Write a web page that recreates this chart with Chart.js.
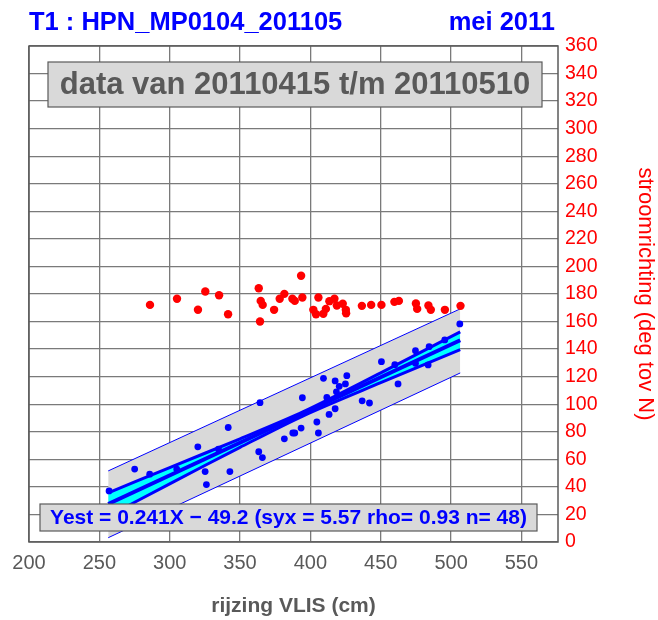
<!DOCTYPE html>
<html>
<head>
<meta charset="utf-8">
<script src="https://cdn.jsdelivr.net/npm/chart.js@4.4.1/dist/chart.umd.min.js"></script>
<style>
html, body { margin: 0; padding: 0; background: #fff; }
</style>
</head>
<body>
<canvas id="myChart" width="658" height="620"></canvas>
<script>
// texts
const titleLeft = 'T1 : HPN_MP0104_201105';
const titleRight = 'mei 2011';
const periodText = 'data van 20110415 t/m 20110510';
const fitText = 'Yest = 0.241X \u2212 49.2 (syx = 5.57 rho= 0.93 n= 48)';
const xAxisTitle = 'rijzing VLIS (cm)';
const yAxisTitle = 'stroomrichting (deg tov N)';

// tick labels
const xTicks = [200, 250, 300, 350, 400, 450, 500, 550];
const yTicks = [0, 20, 40, 60, 80, 100, 120, 140, 160, 180, 200, 220, 240, 260, 280, 300, 320, 340, 360];

// stroomrichting (red dots)
const redX = [286.0, 305.2, 320.1, 325.3, 335.1, 341.5, 363.3, 364.7, 366.1, 364.2,
    374.2, 378.2, 381.5, 387.2, 388.9, 393.4, 394.3, 402.1, 404.0, 405.7,
    409.2, 411.0, 413.5, 417.1, 418.8, 423.0, 425.2, 425.4, 436.6, 443.2,
    450.5, 459.7, 462.9, 475.0, 475.9, 483.9, 485.6, 495.6, 506.7];
const redY = [172.1, 176.6, 168.6, 181.8, 179.1, 165.3, 184.2, 175.0, 172.1, 160.0,
    168.5, 176.6, 180.1, 176.6, 175.0, 193.2, 177.5, 168.5, 165.3, 177.5,
    165.6, 169.2, 174.8, 176.5, 171.6, 172.9, 168.5, 166.0, 171.4, 172.1,
    172.1, 174.3, 175.0, 173.1, 169.2, 171.6, 168.5, 168.5, 171.4];

// blue dots
const blueX = [256.9, 275.1, 285.8, 305.0, 320.0, 325.2, 326.1, 334.7, 341.6, 342.8,
    363.3, 365.9, 364.2, 381.5, 387.5, 388.9, 393.4, 394.3, 404.6, 405.7,
    409.3, 411.7, 413.3, 417.6, 417.6, 420.5, 418.5, 424.9, 425.9, 436.8,
    442.0, 450.5, 460.0, 462.3, 474.7, 474.7, 483.7, 484.4, 495.5, 506.2];
const blueY = [37.1, 52.9, 49.2, 52.9, 69.1, 51.1, 41.7, 67.4, 83.1, 51.1,
    65.5, 61.3, 101.1, 74.9, 79.1, 79.1, 82.7, 104.7, 87.1, 79.1,
    118.8, 104.9, 92.6, 96.7, 116.9, 113.0, 109.0, 114.7, 120.7, 102.5,
    100.9, 130.9, 128.7, 114.7, 138.9, 129.7, 128.5, 141.8, 146.7, 158.3];

// regression line, confidence band, prediction band
const fitX = [256.3, 506.5];
const fitY = [27.6, 146.4];
const confX = [256.3, 300, 350, 395, 450, 506.5];
const confUpper = [35.7, 54.0, 74.9, 94.6, 122.8, 152.5];
const confLower = [18.7, 42.2, 68.7, 91.6, 115.6, 139.6];
const predX = [256.3, 506.5];
const predUpper = [51.6, 169.2];
const predLower = [3.1, 122.7];

const FONT = '"Liberation Sans", Arial, Helvetica, sans-serif';

function toPoints(xs, ys) {
    return xs.map((x, i) => ({ x: x, y: ys[i] }));
}

function drawBox(ctx, x1, y1, x2, y2, text, font, color) {
    ctx.save();
    ctx.fillStyle = '#d9d9d9';
    ctx.fillRect(x1, y1, x2 - x1, y2 - y1);
    ctx.strokeStyle = '#5a5a5a';
    ctx.lineWidth = 1.2;
    ctx.strokeRect(x1, y1, x2 - x1, y2 - y1);
    ctx.fillStyle = color;
    ctx.font = font;
    ctx.textAlign = 'center';
    ctx.textBaseline = 'middle';
    ctx.fillText(text, (x1 + x2) / 2, (y1 + y2) / 2 + 1);
    ctx.restore();
}

// boxes, frame and outer titles
const decorPlugin = {
    id: 'decor',
    afterDatasetsDraw(chart) {
        const ctx = chart.ctx;
        const a = chart.chartArea;
        ctx.save();
        ctx.strokeStyle = '#5a5a5a';
        ctx.lineWidth = 1.5;
        ctx.strokeRect(a.left, a.top, a.right - a.left, a.bottom - a.top);
        ctx.restore();

        drawBox(ctx, a.left + 19, a.top + 16, a.left + 513, a.top + 61, periodText, 'bold 31px ' + FONT, '#595959');
        drawBox(ctx, a.left + 11, a.bottom - 38, a.left + 508, a.bottom - 11, fitText, 'bold 21px ' + FONT, '#0000ff');
    },
    afterDraw(chart) {
        const ctx = chart.ctx;
        const a = chart.chartArea;
        ctx.save();
        ctx.fillStyle = '#0000ff';
        ctx.font = 'bold 25.5px ' + FONT;
        ctx.textBaseline = 'middle';
        ctx.textAlign = 'left';
        ctx.fillText(titleLeft, a.left, 23);
        ctx.textAlign = 'right';
        ctx.fillText(titleRight, 555, 23);

        ctx.fillStyle = '#595959';
        ctx.font = 'bold 21px ' + FONT;
        ctx.textAlign = 'center';
        ctx.fillText(xAxisTitle, (a.left + a.right) / 2, 606);

        ctx.translate(645, (a.top + a.bottom) / 2);
        ctx.rotate(Math.PI / 2);
        ctx.fillStyle = '#ff0000';
        ctx.font = '22px ' + FONT;
        ctx.fillText(yAxisTitle, 0, 0);
        ctx.restore();
    }
};

const ctx = document.getElementById('myChart').getContext('2d');
new Chart(ctx, {
    type: 'scatter',
    data: {
        datasets: [
            { // 0
                data: toPoints(redX, redY),
                pointRadius: 4.2,
                pointBackgroundColor: '#ff0000',
                pointBorderWidth: 0,
                order: 0
            },
            { // 1
                data: toPoints(blueX, blueY),
                pointRadius: 3.4,
                pointBackgroundColor: '#0000ff',
                pointBorderWidth: 0,
                order: 1
            },
            { // 2
                type: 'line',
                data: toPoints(fitX, fitY),
                borderColor: '#0000ff',
                borderWidth: 4,
                pointRadius: 0,
                fill: false,
                order: 2
            },
            { // 3
                type: 'line',
                data: toPoints(confX, confUpper),
                borderColor: '#0000ff',
                borderWidth: 3,
                pointRadius: 0,
                tension: 0.3,
                backgroundColor: '#00ffff',
                fill: '+1',
                order: 3
            },
            { // 4
                type: 'line',
                data: toPoints(confX, confLower),
                borderColor: '#0000ff',
                borderWidth: 3,
                pointRadius: 0,
                tension: 0.3,
                fill: false,
                order: 4
            },
            { // 5
                type: 'line',
                data: toPoints(predX, predUpper),
                borderColor: '#0000ff',
                borderWidth: 1,
                pointRadius: 0,
                backgroundColor: '#d9d9d9',
                fill: '+1',
                order: 5
            },
            { // 6
                type: 'line',
                data: toPoints(predX, predLower),
                borderColor: '#0000ff',
                borderWidth: 1,
                pointRadius: 0,
                fill: false,
                order: 6
            }
        ]
    },
    options: {
        responsive: false,
        animation: false,
        devicePixelRatio: 1,
        layout: {
            padding: { left: 29, top: 46, right: 0, bottom: 0 }
        },
        plugins: {
            legend: { display: false },
            tooltip: { enabled: false },
            filler: { propagate: false, drawTime: 'beforeDatasetsDraw' }
        },
        scales: {
            x: {
                type: 'linear',
                min: 200,
                max: 576,
                afterBuildTicks: s => { s.ticks = xTicks.map(v => ({ value: v })); },
                afterFit: s => { s.height = 78; },
                ticks: {
                    color: '#595959',
                    font: { family: FONT, size: 20 },
                    padding: 9,
                    maxRotation: 0,
                    autoSkip: false
                },
                grid: { color: '#7a7a7a', lineWidth: 1.3, drawTicks: false },
                border: { display: false }
            },
            y: {
                type: 'linear',
                position: 'right',
                min: 0,
                max: 360,
                afterBuildTicks: s => { s.ticks = yTicks.map(v => ({ value: v })); },
                afterFit: s => { s.width = 100; },
                ticks: {
                    color: '#ff0000',
                    font: { family: FONT, size: 19.5 },
                    padding: 7,
                    autoSkip: false
                },
                grid: { color: '#7a7a7a', lineWidth: 1.3, drawTicks: false },
                border: { display: false }
            }
        }
    },
    plugins: [decorPlugin]
});
</script>
</body>
</html>
